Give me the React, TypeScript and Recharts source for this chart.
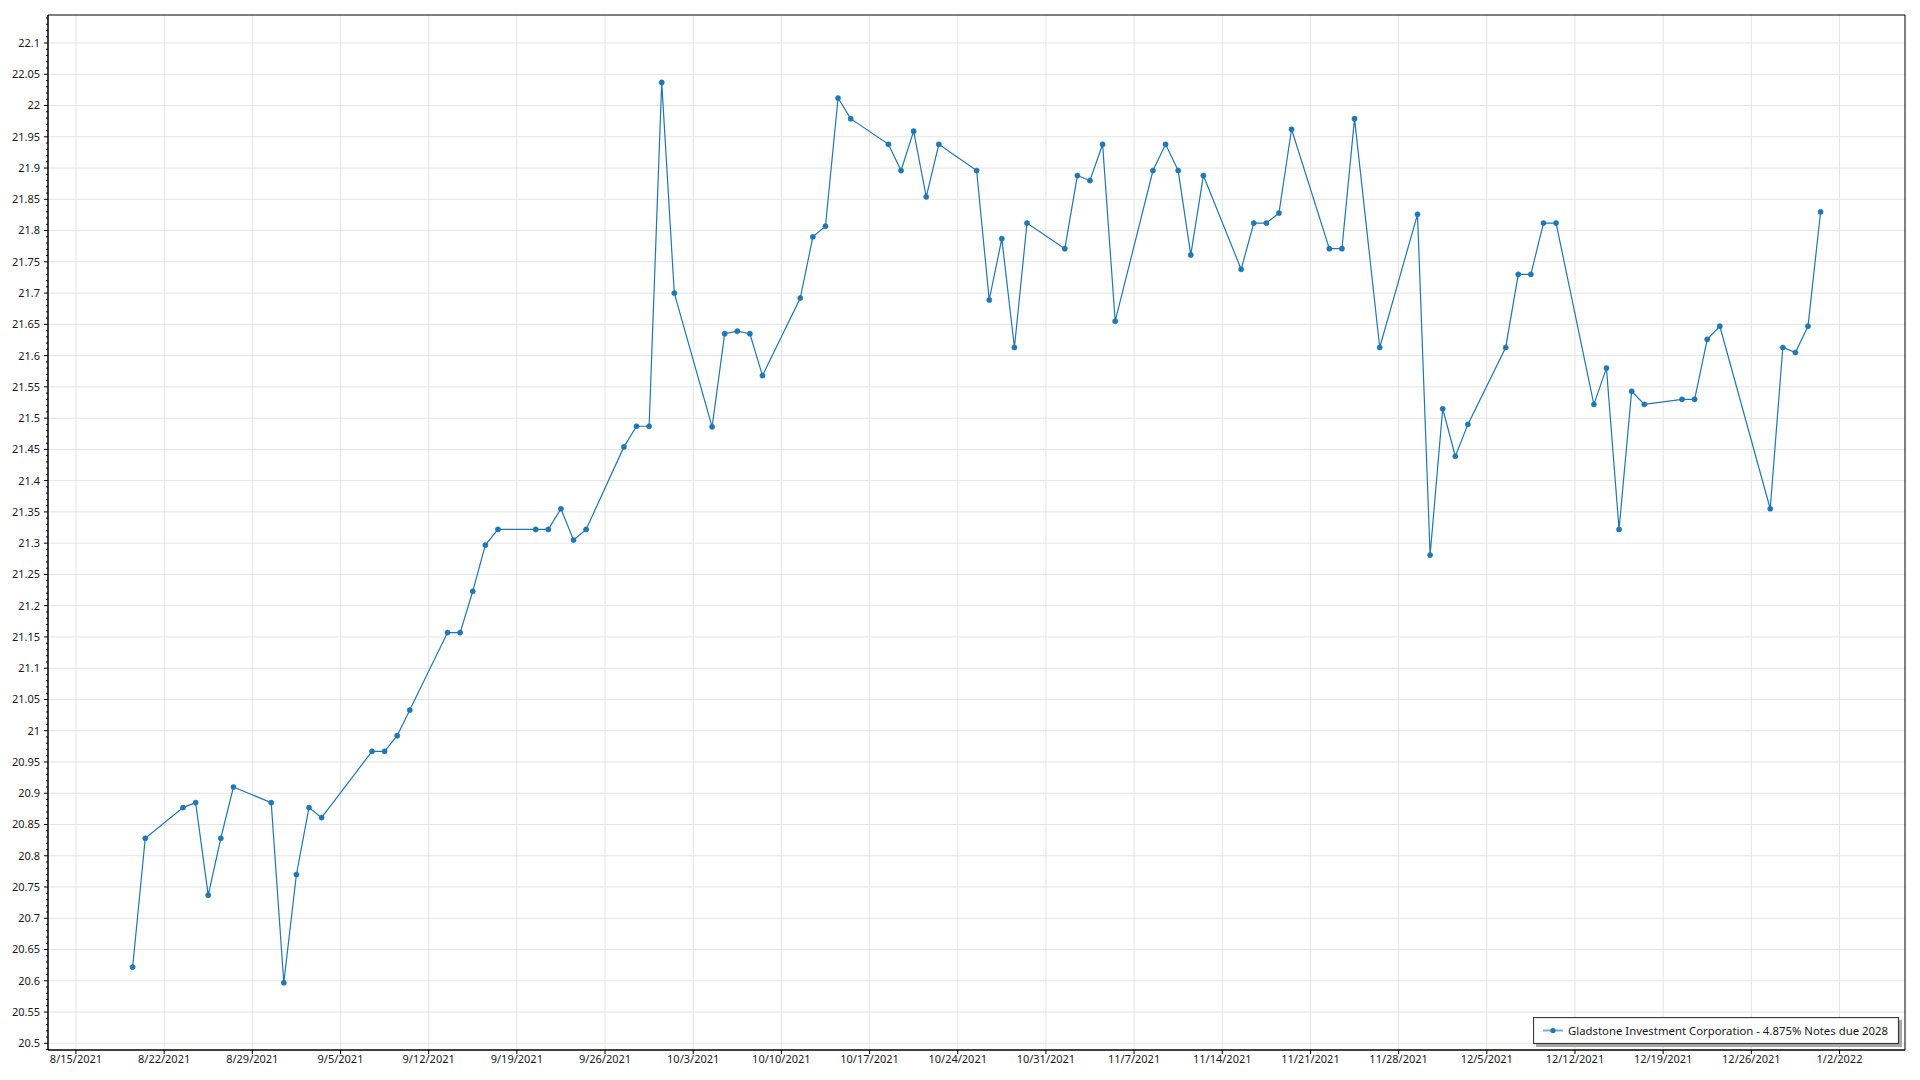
import React from "react";
import { LineChart, Line, XAxis, YAxis, CartesianGrid, ReferenceArea, Legend } from "recharts";

const seriesName = "Gladstone Investment Corporation - 4.875% Notes due 2028";

const dates = [
  "2021-08-19", "2021-08-20", "2021-08-23", "2021-08-24", "2021-08-25", "2021-08-26", "2021-08-27",
  "2021-08-30", "2021-08-31", "2021-09-01", "2021-09-02", "2021-09-03",
  "2021-09-07", "2021-09-08", "2021-09-09", "2021-09-10",
  "2021-09-13", "2021-09-14", "2021-09-15", "2021-09-16", "2021-09-17",
  "2021-09-20", "2021-09-21", "2021-09-22", "2021-09-23", "2021-09-24",
  "2021-09-27", "2021-09-28", "2021-09-29", "2021-09-30", "2021-10-01",
  "2021-10-04", "2021-10-05", "2021-10-06", "2021-10-07", "2021-10-08",
  "2021-10-11", "2021-10-12", "2021-10-13", "2021-10-14", "2021-10-15",
  "2021-10-18", "2021-10-19", "2021-10-20", "2021-10-21", "2021-10-22",
  "2021-10-25", "2021-10-26", "2021-10-27", "2021-10-28", "2021-10-29",
  "2021-11-01", "2021-11-02", "2021-11-03", "2021-11-04", "2021-11-05",
  "2021-11-08", "2021-11-09", "2021-11-10", "2021-11-11", "2021-11-12",
  "2021-11-15", "2021-11-16", "2021-11-17", "2021-11-18", "2021-11-19",
  "2021-11-22", "2021-11-23", "2021-11-24", "2021-11-26",
  "2021-11-29", "2021-11-30", "2021-12-01", "2021-12-02", "2021-12-03",
  "2021-12-06", "2021-12-07", "2021-12-08", "2021-12-09", "2021-12-10",
  "2021-12-13", "2021-12-14", "2021-12-15", "2021-12-16", "2021-12-17",
  "2021-12-20", "2021-12-21", "2021-12-22", "2021-12-23",
  "2021-12-27", "2021-12-28", "2021-12-29", "2021-12-30", "2021-12-31",
];

const prices = [
  20.622, 20.828, 20.877, 20.885, 20.737, 20.828, 20.910,
  20.885, 20.597, 20.770, 20.877, 20.861,
  20.967, 20.967, 20.992, 21.033,
  21.157, 21.157, 21.223, 21.297, 21.322,
  21.322, 21.322, 21.355, 21.305, 21.322,
  21.454, 21.487, 21.487, 22.037, 21.700,
  21.486, 21.635, 21.639, 21.635, 21.568,
  21.692, 21.790, 21.807, 22.012, 21.979,
  21.938, 21.896, 21.959, 21.854, 21.938,
  21.896, 21.689, 21.787, 21.613, 21.812,
  21.771, 21.888, 21.880, 21.938, 21.655,
  21.896, 21.938, 21.896, 21.761, 21.888,
  21.738, 21.812, 21.812, 21.828, 21.962,
  21.771, 21.771, 21.979, 21.613,
  21.826, 21.281, 21.515, 21.439, 21.490,
  21.613, 21.730, 21.730, 21.812, 21.812,
  21.522, 21.580, 21.322, 21.543, 21.522,
  21.530, 21.530, 21.626, 21.647,
  21.355, 21.613, 21.605, 21.647, 21.830,
];

const xTickLabels = [
  "8/15/2021", "8/22/2021", "8/29/2021", "9/5/2021", "9/12/2021", "9/19/2021", "9/26/2021",
  "10/3/2021", "10/10/2021", "10/17/2021", "10/24/2021", "10/31/2021", "11/7/2021", "11/14/2021",
  "11/21/2021", "11/28/2021", "12/5/2021", "12/12/2021", "12/19/2021", "12/26/2021", "1/2/2022",
];

const yTickLabels = [
  "20.5", "20.55", "20.6", "20.65", "20.7", "20.75", "20.8", "20.85", "20.9", "20.95",
  "21", "21.05", "21.1", "21.15", "21.2", "21.25", "21.3", "21.35", "21.4", "21.45",
  "21.5", "21.55", "21.6", "21.65", "21.7", "21.75", "21.8", "21.85", "21.9", "21.95",
  "22", "22.05", "22.1",
];

const DAY = 86400000;
const ORIGIN = Date.UTC(2021, 7, 15);
const isoToDay = (s: string) => {
  const [y, m, d] = s.split("-").map(Number);
  return (Date.UTC(y, m - 1, d) - ORIGIN) / DAY;
};
const usToDay = (s: string) => {
  const [m, d, y] = s.split("/").map(Number);
  return (Date.UTC(y, m - 1, d) - ORIGIN) / DAY;
};

// data points are stamped at mid-day
const data = dates.map((d, i) => ({ t: isoToDay(d) + 0.5, price: prices[i] }));

const xTicks = xTickLabels.map(usToDay);
const xLabelMap = new Map<number, string>(xTickLabels.map((l) => [usToDay(l), l]));

const yMajor = yTickLabels.map(Number);
const yLabelMap = new Map<number, string>(yTickLabels.map((l) => [Math.round(Number(l) * 100), l]));
const yMinor: number[] = [];
for (let c = 2049; c <= 2214; c++) yMinor.push(c / 100);

const X_DOMAIN: [number, number] = [-2.22, 145.2];
const Y_DOMAIN: [number, number] = [20.4893, 22.1448];

const FONT = "'Segoe UI', 'Noto Sans', sans-serif";
const TEXT = "#1a1a1a";
const BLUE = "#1f77b4";

const YTick = (props: any) => {
  const { x, y, payload } = props;
  const key = Math.round(payload.value * 100);
  const label = yLabelMap.get(key);
  const major = label !== undefined;
  return (
    <g>
      <line x1={x - (major ? 4 : 2)} x2={x} y1={y} y2={y} stroke="#000" strokeWidth={1} />
      {major && (
        <text x={x - 8} y={y} dy="0.355em" textAnchor="end" fontSize={11} fontFamily={FONT} fill={TEXT}>
          {label}
        </text>
      )}
    </g>
  );
};

const XTick = (props: any) => {
  const { x, y, payload } = props;
  const label = xLabelMap.get(Math.round(payload.value)) ?? "";
  return (
    <g>
      <line x1={x} x2={x} y1={y} y2={y + 4} stroke="#000" strokeWidth={1} />
      <text x={x} y={y + 5} dy="0.71em" textAnchor="middle" fontSize={11} fontFamily={FONT} fill={TEXT}>
        {label}
      </text>
    </g>
  );
};

const LegendBox = (props: any) => {
  const name = props.payload && props.payload[0] ? props.payload[0].value : seriesName;
  return (
    <svg width={372} height={32} style={{ display: "block" }}>
      <rect x={3} y={3} width={366} height={27} fill="#a8a8a8" />
      <rect x={0.5} y={0.5} width={365} height={26} fill="#ffffff" stroke="#3a3a3a" strokeWidth={1.2} />
      <line x1={10} x2={30} y1={13.5} y2={13.5} stroke={BLUE} strokeWidth={2} strokeOpacity={0.6} />
      <circle cx={20} cy={13.5} r={2.6} fill={BLUE} />
      <text
        x={35}
        y={13.5}
        dy="0.355em"
        fontSize={11.5}
        fontFamily={FONT}
        fill={TEXT}
        textLength={320}
        lengthAdjust="spacingAndGlyphs"
      >
        {name}
      </text>
    </svg>
  );
};

export default function App() {
  return (
    <div style={{ width: 1904, height: 1064, background: "#fff", fontFamily: FONT }}>
      <LineChart width={1904} height={1064} data={data} margin={{ top: 7, right: 7, bottom: 0, left: 0 }}>
        <CartesianGrid stroke="#e4e4e4" horizontalValues={yMajor} verticalValues={xTicks} />
        <XAxis
          dataKey="t"
          type="number"
          domain={X_DOMAIN}
          allowDataOverflow
          ticks={xTicks}
          interval={0}
          height={22}
          tickSize={0}
          tickMargin={0}
          tickLine={false}
          axisLine={{ stroke: "#000", strokeWidth: 1 }}
          tick={<XTick />}
        />
        <YAxis
          type="number"
          domain={Y_DOMAIN}
          allowDataOverflow
          ticks={yMinor}
          interval={0}
          width={40}
          tickSize={0}
          tickMargin={0}
          tickLine={false}
          axisLine={{ stroke: "#000", strokeWidth: 1 }}
          tick={<YTick />}
        />
        <ReferenceArea
          x1={X_DOMAIN[0]}
          x2={X_DOMAIN[1]}
          y1={Y_DOMAIN[0]}
          y2={Y_DOMAIN[1]}
          fill="none"
          fillOpacity={0}
          stroke="#000"
          strokeWidth={1}
          ifOverflow="visible"
        />
        <Line
          type="linear"
          dataKey="price"
          name={seriesName}
          stroke={BLUE}
          strokeWidth={1.2}
          dot={{ r: 2.6, fill: BLUE, stroke: BLUE, strokeWidth: 0.5 }}
          activeDot={false}
          isAnimationActive={false}
        />
        <Legend
          layout="horizontal"
          verticalAlign="middle"
          align="center"
          content={<LegendBox />}
          wrapperStyle={{ position: "absolute", left: 1525, top: 1009, width: 372, height: 32 }}
        />
      </LineChart>
    </div>
  );
}
